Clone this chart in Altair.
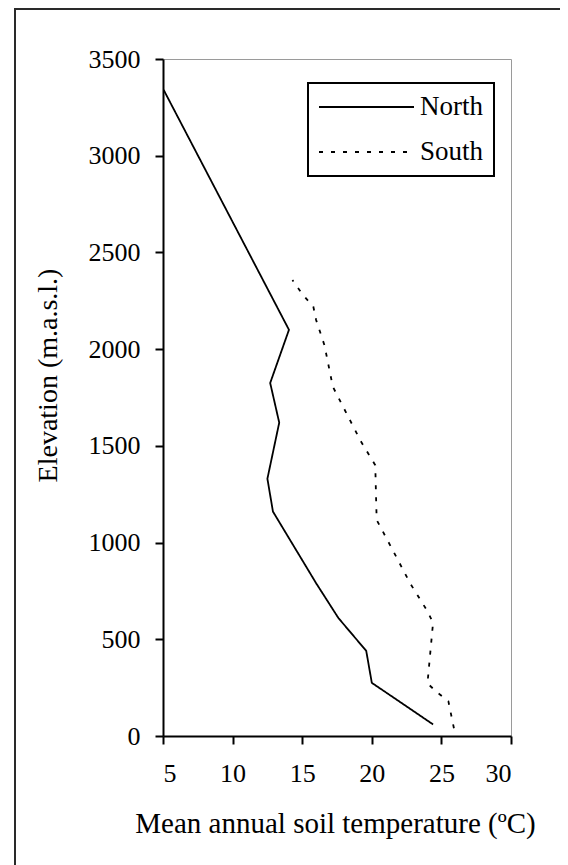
import altair as alt
import pandas as pd

# ---- data ----
north_temp = [24.4, 20.0, 19.6, 17.6, 16.0, 12.9, 12.5, 13.35, 12.7, 14.05, 5.05]
north_elev = [60, 275, 440, 610, 790, 1160, 1330, 1620, 1825, 2100, 3340]

south_temp = [25.9, 25.5, 24.7, 24.0, 24.2, 24.4, 24.0, 22.75, 21.4, 20.35, 20.3,
              20.25, 19.2, 17.2, 16.6, 16.0, 15.8, 15.0, 14.3]
south_elev = [40, 180, 225, 272, 430, 585, 645, 790, 975, 1117, 1250,
              1400, 1525, 1806, 2020, 2151, 2220, 2285, 2357]

series_names = ["North", "South"]
x_ticks = [5, 10, 15, 20, 25, 30]
y_ticks = [0, 500, 1000, 1500, 2000, 2500, 3000, 3500]

rows = []
for t, e in zip(north_temp, north_elev):
    rows.append({"series": "North", "temp": t, "elev": e})
for t, e in zip(south_temp, south_elev):
    rows.append({"series": "South", "temp": t, "elev": e})
df = pd.DataFrame(rows)

FONT = "Liberation Serif"
W, H = 348, 677


def build(with_legend_stroke_width=True):
    legend_kw = dict(
        orient="none", legendX=145, legendY=24, title=None,
        symbolType="stroke", symbolSize=9025, symbolStrokeWidth=1.8,
        symbolStrokeColor="black", clipHeight=28,
        labelFont=FONT, labelFontSize=27, labelColor="black", labelOffset=5,
        padding=10, rowPadding=17, strokeColor="black", fillColor="white",
    )
    lines = alt.Chart(df).mark_line(color="black", strokeWidth=1.8).encode(
        x=alt.X("temp:Q",
                scale=alt.Scale(domain=[5, 30], nice=False, zero=False),
                axis=alt.Axis(values=x_ticks, title="Mean annual soil temperature (ºC)",
                              format="d", labelPadding=16, titleX=172, titleY=96,
                              titleFontSize=29,
                              titleBaseline="alphabetic", titleAlign="center")),
        y=alt.Y("elev:Q",
                scale=alt.Scale(domain=[0, 3500], nice=False),
                axis=alt.Axis(values=y_ticks, title="Elevation (m.a.s.l.)",
                              format="d", labelPadding=15, titleAngle=270,
                              titleX=-107, titleY=316,
                              titleBaseline="alphabetic", titleAlign="center")),
        strokeDash=alt.StrokeDash(
            "series:N",
            scale=alt.Scale(domain=series_names, range=[[1, 0], [4, 8]]),
            legend=alt.Legend(**legend_kw),
        ),
        order=alt.Order("elev:Q"),
    )

    frame = alt.Chart(pd.DataFrame({"k": [0]})).mark_rect(
        fill=None, stroke="#2a2a2a", strokeWidth=2
    ).encode(
        x=alt.value(-148), x2=alt.value(400), y=alt.value(-50), y2=alt.value(900)
    )

    chart = alt.layer(frame, lines).properties(
        width=W, height=H,
        autosize="none",
        padding={"left": 155, "top": 51, "right": 49, "bottom": 129},
        background="white",
    ).configure_view(
        stroke="#9a9a9a", strokeWidth=1
    ).configure_axis(
        grid=False, domainColor="black", domainWidth=2,
        tickColor="black", tickWidth=2, tickSize=8,
        labelFont=FONT, labelFontSize=26, labelColor="black",
        titleFont=FONT, titleFontSize=28, titleFontWeight="normal", titleColor="black",
    )
    if with_legend_stroke_width:
        chart = chart.configure_legend(strokeWidth=2)
    return chart


try:
    chart = build(True)
    chart.to_dict()
except Exception:
    chart = build(False)

chart.save("out.html", embed_options={"renderer": "svg", "actions": False})
